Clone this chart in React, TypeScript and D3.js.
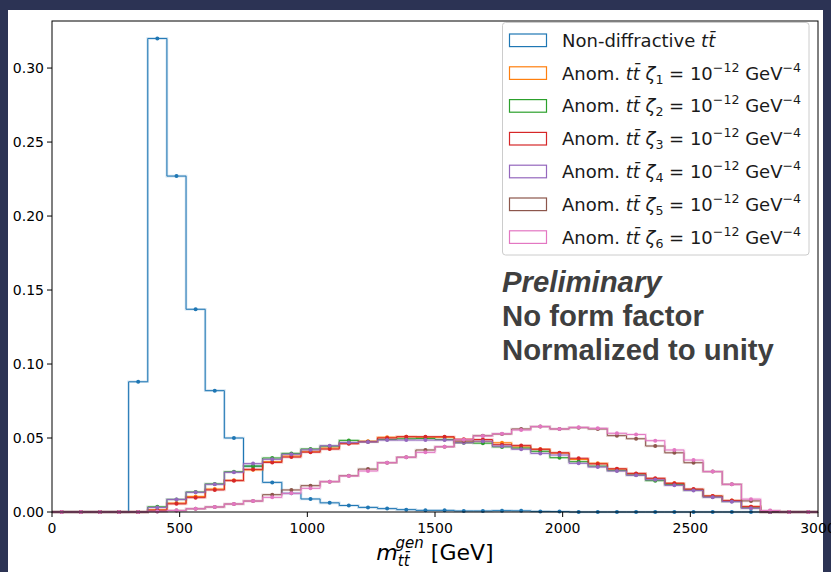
import React from 'react';
import * as d3 from 'd3';

// ---------- data ----------
const binWidth = 75;
const nBins = 40;
const xTicks = [0, 500, 1000, 1500, 2000, 2500, 3000];
const yTicks = [0, 0.05, 0.1, 0.15, 0.2, 0.25, 0.3];

const nonDiffractive = [0, 0, 0, 0, 0.088, 0.32, 0.227, 0.137, 0.082, 0.05, 0.031, 0.02, 0.0126, 0.0088, 0.0062, 0.0044, 0.0031, 0.0023, 0.0016, 0.0011, 0.0011, 0.0007, 0.0007, 0.0009, 0.0008, 0.0004, 0.0003, 0, 0, 0, 0, 0, 0, 0, 0, 0, 0, 0, 0, 0];
const zeta1 = [0, 0, 0, 0, 0, 0.0015, 0.006, 0.0105, 0.0155, 0.0214, 0.0285, 0.034, 0.0378, 0.041, 0.0432, 0.0465, 0.0478, 0.0505, 0.0508, 0.0505, 0.0505, 0.0472, 0.0478, 0.0468, 0.044, 0.0424, 0.0398, 0.0355, 0.0329, 0.029, 0.0258, 0.0225, 0.0194, 0.0152, 0.0108, 0.0078, 0.0036, 0, 0, 0];
const zeta2 = [0, 0, 0, 0, 0, 0.0035, 0.0085, 0.0135, 0.019, 0.0272, 0.031, 0.0365, 0.0396, 0.0426, 0.0445, 0.0484, 0.0475, 0.049, 0.0495, 0.0497, 0.049, 0.0468, 0.0465, 0.044, 0.0432, 0.041, 0.0367, 0.034, 0.031, 0.028, 0.025, 0.0212, 0.0185, 0.0148, 0.0102, 0.0072, 0.0028, 0, 0, 0];
const zeta3 = [0, 0, 0, 0, 0, 0.0012, 0.0055, 0.0097, 0.0149, 0.0212, 0.0288, 0.0335, 0.0371, 0.0404, 0.0425, 0.0461, 0.0475, 0.05, 0.0509, 0.0509, 0.0509, 0.0492, 0.049, 0.0455, 0.045, 0.0424, 0.04, 0.0363, 0.0325, 0.0292, 0.0261, 0.0228, 0.0194, 0.0155, 0.0108, 0.0077, 0.0036, 0, 0, 0];
const zeta4 = [0, 0, 0, 0, 0, 0.003, 0.0085, 0.0133, 0.0187, 0.0268, 0.0327, 0.0356, 0.039, 0.042, 0.0448, 0.047, 0.0473, 0.0486, 0.0486, 0.0486, 0.0486, 0.0468, 0.0478, 0.0445, 0.0424, 0.0396, 0.0385, 0.0329, 0.0304, 0.0277, 0.0248, 0.0218, 0.018, 0.0145, 0.01, 0.007, 0.0025, 0, 0, 0];
const zeta5 = [0, 0, 0, 0, 0, 0.0004, 0.001, 0.0022, 0.0034, 0.0054, 0.0074, 0.0117, 0.0149, 0.0178, 0.0205, 0.0245, 0.029, 0.0333, 0.037, 0.0419, 0.0441, 0.048, 0.0516, 0.0527, 0.0561, 0.0577, 0.0561, 0.057, 0.0561, 0.0516, 0.0495, 0.0446, 0.04, 0.0333, 0.0273, 0.0187, 0.0075, 0.0007, 0, 0];
const zeta6 = [0, 0, 0, 0, 0, 0.0004, 0.001, 0.0022, 0.0034, 0.0054, 0.0074, 0.0099, 0.0126, 0.016, 0.0205, 0.0243, 0.0277, 0.0333, 0.037, 0.0403, 0.0441, 0.0488, 0.0514, 0.0529, 0.0554, 0.0577, 0.0561, 0.0572, 0.0566, 0.0532, 0.0524, 0.0482, 0.0419, 0.0351, 0.0273, 0.0187, 0.0087, 0.001, 0, 0];

const seriesNames = ['nd', 'z1', 'z2', 'z3', 'z4', 'z5', 'z6'];
const seriesValues = [nonDiffractive, zeta1, zeta2, zeta3, zeta4, zeta5, zeta6];
const zetaIndex = [0, 1, 2, 3, 4, 5, 6];
const colors = ['#1f77b4', '#ff7f0e', '#2ca02c', '#d62728', '#9467bd', '#8c564b', '#e377c2'];
const notes = ['Preliminary', 'No form factor', 'Normalized to unity'];

// ---------- layout ----------
const W = 831;
const H = 572;
const left = 52;
const right = 818;
const top = 21;
const bottom = 512;

const x = d3.scaleLinear().domain([0, 3000]).range([left, right]);
const y = d3.scaleLinear().domain([0, 0.3318]).range([bottom, top]);

const edges = d3.range(nBins + 1).map((i) => i * binWidth);

function stepPath(vals: number[]): string {
  const pts: [number, number][] = [[edges[0], 0]];
  vals.forEach((v, i) => {
    pts.push([edges[i], v]);
    pts.push([edges[i + 1], v]);
  });
  pts.push([edges[nBins], 0]);
  const line = d3
    .line<[number, number]>()
    .x((d) => x(d[0]))
    .y((d) => y(d[1]));
  return line(pts) || '';
}

const FONT = 'DejaVu Sans, sans-serif';

function LegendLabel({ idx, tx, ty }: { idx: number; tx: number; ty: number }) {
  if (idx === 0) {
    return (
      <text x={tx} y={ty} fontFamily={FONT} fontSize={18} fill="#1a1a1a">
        Non-diffractive{' '}
        <tspan fontStyle="italic">t{'t\u0304'}</tspan>
      </text>
    );
  }
  return (
    <text x={tx} y={ty} fontFamily={FONT} fontSize={18} fill="#1a1a1a" xmlSpace="preserve">
      <tspan>Anom. </tspan>
      <tspan fontStyle="italic">t{'t\u0304'}</tspan>
      <tspan> </tspan>
      <tspan fontStyle="italic">ζ</tspan>
      <tspan fontSize={12.6} dy={4}>{String(zetaIndex[idx])}</tspan>
      <tspan dy={-4}> = 10</tspan>
      <tspan fontSize={12.6} dy={-8}>−12</tspan>
      <tspan dy={8}> GeV</tspan>
      <tspan fontSize={12.6} dy={-8}>−4</tspan>
    </text>
  );
}

export default function App() {
  const legX = 502.5;
  const legY = 22.5;
  const legW = 306.5;
  const legH = 232.5;
  const rowY0 = 40.3;
  const rowDy = 32.8;

  return (
    <div style={{ position: 'absolute', left: 0, top: 0 }}>
      <svg width={W} height={H} style={{ display: 'block' }}>
        <rect x={0} y={0} width={W} height={H} fill="#2c3354" />
        <rect x={8} y={10} width={815} height={H - 10} fill="#ffffff" />

        {/* histograms */}
        {seriesValues.map((vals, si) => (
          <g key={seriesNames[si]}>
            <path d={stepPath(vals)} fill="none" stroke={colors[si]} strokeOpacity={0.22} strokeWidth={2.6} />
            <path d={stepPath(vals)} fill="none" stroke={colors[si]} strokeWidth={1} />
            {vals.map((v, i) => (
              <circle key={i} cx={x(edges[i] + binWidth / 2)} cy={y(v)} r={2} fill={colors[si]} />
            ))}
          </g>
        ))}

        {/* spines */}
        <rect x={left} y={top} width={right - left} height={bottom - top} fill="none" stroke="#000" strokeWidth={1} />

        {/* y axis */}
        {yTicks.map((t) => (
          <g key={'y' + t}>
            <line x1={left - 5} x2={left} y1={y(t)} y2={y(t)} stroke="#000" />
            <text x={left - 8} y={y(t) + 5} textAnchor="end" fontFamily={FONT} fontSize={14} fill="#000">
              {t.toFixed(2)}
            </text>
          </g>
        ))}

        {/* x axis */}
        {xTicks.map((t) => (
          <g key={'x' + t}>
            <line x1={x(t)} x2={x(t)} y1={bottom} y2={bottom + 5} stroke="#000" />
            <text x={x(t)} y={bottom + 21} textAnchor="middle" fontFamily={FONT} fontSize={14} fill="#000">
              {t}
            </text>
          </g>
        ))}

        {/* x label */}
        <text x={(left + right) / 2} y={560} textAnchor="middle" fontFamily={FONT} fontSize={22} fill="#000">
          <tspan fontStyle="italic">m</tspan>
          <tspan fontStyle="italic" fontSize={15} dy={6}>t{'t\u0304'}</tspan>
          <tspan fontStyle="italic" fontSize={15} dx={-14} dy={-18}>gen</tspan>
          <tspan dy={12}> [GeV]</tspan>
        </text>

        {/* legend */}
        <rect x={legX} y={legY} width={legW} height={legH} rx={3} fill="#fff" fillOpacity={0.8} stroke="#cccccc" />
        {seriesNames.map((n, i) => (
          <g key={'l' + n}>
            <rect x={509.5} y={rowY0 + rowDy * i - 6.3} width={37} height={12.6} fill="none" stroke={colors[i]} strokeWidth={1.2} />
            <LegendLabel idx={i} tx={562} ty={rowY0 + rowDy * i + 6.5} />
          </g>
        ))}

        {/* notes */}
        {notes.map((s, i) => (
          <text
            key={s}
            x={502}
            y={292 + i * 34}
            fontFamily="Liberation Sans, Arial, sans-serif"
            fontWeight="bold"
            fontStyle={i === 0 ? 'italic' : 'normal'}
            fontSize={29.3}
            fill="#3f3f3f"
          >
            {s}
          </text>
        ))}
      </svg>
    </div>
  );
}
